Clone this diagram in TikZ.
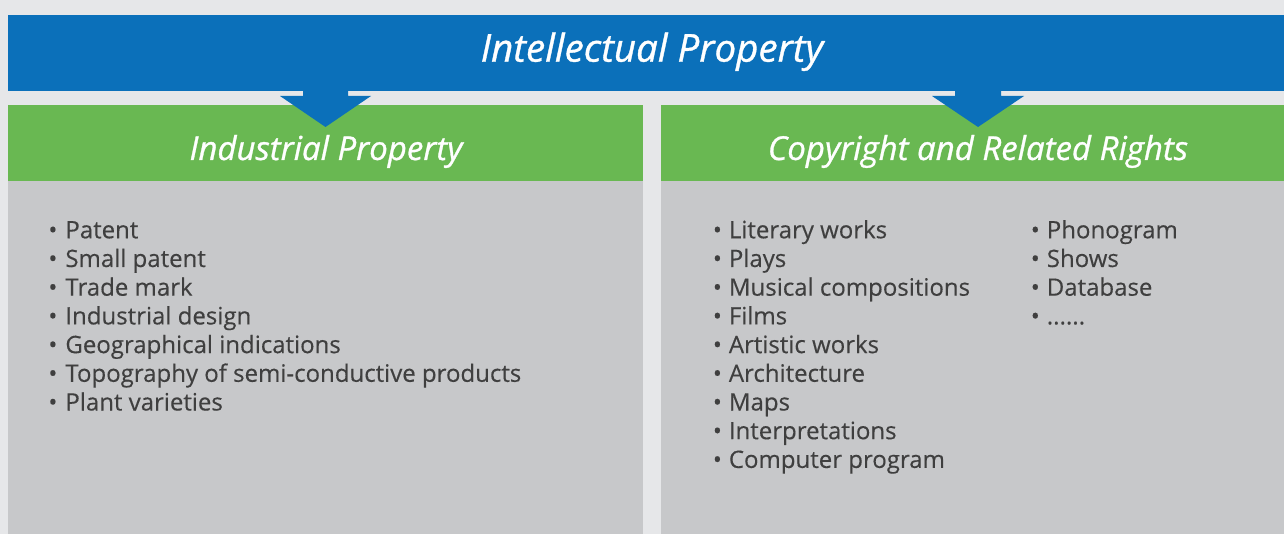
\documentclass[tikz,border=0pt]{standalone}
\usepackage{fontspec}
\setmainfont{Open Sans}
\newfontfamily\ipheadfont[FakeBold=0.9]{Open Sans}
\newfontfamily\ipbodyfont[FakeBold=0.3]{Open Sans}
\definecolor{bgcol}{HTML}{E6E7E9}
\definecolor{ipblue}{HTML}{0B70BA}
\definecolor{ipgreen}{HTML}{69B852}
\definecolor{ipgray}{HTML}{C7C8CA}
\definecolor{iptext}{HTML}{3F3F3F}
\newcommand\ipdots{......}
\begin{document}
\begin{tikzpicture}[x=1pt,y=-1pt,
  panel/.style={anchor=north west, inner sep=0pt, outer sep=0pt},
  headtext/.style={anchor=base, inner sep=0pt, text=white, font=\ipheadfont\itshape\fontsize{33}{36}\selectfont},
  item/.style={anchor=base west, inner sep=0pt, text=iptext, font=\ipbodyfont\fontsize{24}{28}\selectfont},
]
\fill[bgcol] (0,0) rectangle (1284,534);
\useasboundingbox (0,0) rectangle (1284,534);
% panels
\node[panel, fill=ipblue, minimum width=1276pt, minimum height=76pt] (ip) at (8,15) {};
\node[panel, fill=ipgreen, minimum width=635pt, minimum height=76pt] (indh) at (8,105) {};
\node[panel, fill=ipgray, minimum width=635pt, minimum height=353pt] (indb) at (8,181) {};
\node[panel, fill=ipgreen, minimum width=623pt, minimum height=76pt] (coph) at (661,105) {};
\node[panel, fill=ipgray, minimum width=623pt, minimum height=353pt] (copb) at (661,181) {};
% arrows
\coordinate (a1) at (325.5,127);
\coordinate (a2) at (978,127);
\fill[ipblue] (303,91) -- (348,91) -- (348,96) -- (371,96) -- (a1) -- (280,96) -- (303,96) -- cycle;
\fill[ipblue] (955,91) -- (1001,91) -- (1001,96) -- (1024,96) -- (a2) -- (932,96) -- (955,96) -- cycle;
% titles
\node[anchor=base, inner sep=0pt, text=white, font=\ipheadfont\itshape\fontsize{38.5}{40}\selectfont] (iptitle) at (652,61.7) {Intellectual Property};
\node[headtext] (indtitle) at (326,160) {Industrial Property};
\node[headtext] (coptitle) at (978,160) {Copyright and Related Rights};
% lists
\foreach [count=\i from 0] \t in {Patent,Small patent,Trade mark,Industrial design,Geographical indications,Topography of semi-conductive products,Plant varieties}
  \node[item] (L\i) at (65.2,238.3+\i*28.7) {\llap{•\hspace{8pt}}\t};
\foreach [count=\i from 0] \t in {Literary works,Plays,Musical compositions,Films,Artistic works,Architecture,Maps,Interpretations,Computer program}
  \node[item] (R\i) at (728.7,238.3+\i*28.7) {\llap{•\hspace{7pt}}\t};
\foreach [count=\i from 0] \t in {Phonogram,Shows,Database,\ipdots}
  \node[item] (S\i) at (1046.6,238.3+\i*28.7) {\llap{•\hspace{7pt}}\t};
\end{tikzpicture}
\end{document}
